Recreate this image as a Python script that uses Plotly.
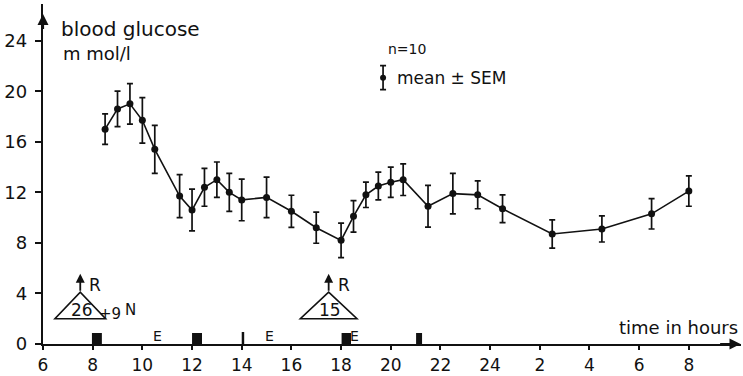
import plotly.graph_objects as go

# ---------------- data ----------------
hours = [8.5, 9, 9.5, 10, 10.5, 11.5, 12, 12.5, 13, 13.5, 14, 15, 16, 17, 18,
         18.5, 19, 19.5, 20, 20.5, 21.5, 22.5, 23.5, 24.5, 26.5, 28.5, 30.5, 32]
glucose = [17.0, 18.6, 19.0, 17.7, 15.4, 11.7, 10.6, 12.4, 13.0, 12.0, 11.4, 11.6, 10.5, 9.2, 8.2,
           10.1, 11.8, 12.5, 12.8, 13.0, 10.9, 11.9, 11.8, 10.7, 8.7, 9.1, 10.3, 12.1]
sem = [1.2, 1.4, 1.6, 1.8, 1.9, 1.7, 1.65, 1.5, 1.4, 1.5, 1.65, 1.6, 1.27, 1.23, 1.37,
       1.25, 1.0, 1.1, 1.2, 1.25, 1.65, 1.6, 1.1, 1.1, 1.12, 1.03, 1.2, 1.2]

x_tick_hours = [6, 8, 10, 12, 14, 16, 18, 20, 22, 24, 26, 28, 30, 32]
x_tick_text = ["6", "8", "10", "12", "14", "16", "18", "20", "22", "24", "2", "4", "6", "8"]
y_ticks = [0, 4, 8, 12, 16, 20, 24]

meal_start = [7.97, 12.0, 18.02, 21.02]
meal_duration = [0.4, 0.4, 0.38, 0.24]
snack_hours = [14.05]
extra_hours = [10.6, 15.1, 18.55]          # "E"
injection_hours = [7.5, 17.5]
injection_doses = ["26", "15"]

# ---------------- layout constants ----------------
W, H = 743, 376
ML, MR, MT, MB = 43, 2, 4, 32
XR = [6, 34.1]
YR = [0, 26.9]
FONT = "DejaVu Sans"
BLACK = "#111111"


def px(xp):
    return (xp - ML) / (W - ML - MR)


def py(yp):
    return (H - MB - yp) / (H - MT - MB)


fig = go.Figure()

fig.add_trace(go.Scatter(
    x=hours, y=glucose, mode="lines+markers",
    line=dict(color=BLACK, width=1.6),
    marker=dict(color=BLACK, size=7),
    error_y=dict(type="data", array=sem, visible=True, color=BLACK, thickness=1.7, width=3),
    showlegend=False, hoverinfo="skip"))

# legend key (mean ± SEM symbol)
fig.add_trace(go.Scatter(
    x=[19.69], y=[21.07], mode="markers",
    marker=dict(color=BLACK, size=6),
    error_y=dict(type="data", array=[0.95], visible=True, color=BLACK, thickness=1.7, width=3),
    showlegend=False, hoverinfo="skip"))

shapes = []
annotations = []

# meals (black blocks on the time axis)
for s, d in zip(meal_start, meal_duration):
    shapes.append(dict(type="rect", xref="x", yref="y", x0=s, x1=s + d, y0=0, y1=0.87,
                       fillcolor=BLACK, line=dict(width=0)))
for h in snack_hours:
    shapes.append(dict(type="rect", xref="x", yref="y", x0=h - 0.05, x1=h + 0.05, y0=0, y1=0.95,
                       fillcolor=BLACK, line=dict(width=0)))
for h in extra_hours:
    annotations.append(dict(x=h, y=0, xref="x", yref="y", text="E", showarrow=False,
                            yanchor="bottom", yshift=-2, font=dict(family=FONT, size=14, color=BLACK)))

# insulin injections (triangles with arrow R)
TRI_HALF = [1.02, 1.14]
TRI_BASE, TRI_APEX, ARROW_TIP = 2.0, 4.1, 5.55
for i, h in enumerate(injection_hours):
    hw = TRI_HALF[i]
    shapes.append(dict(type="path", xref="x", yref="y",
                       path=f"M {h - hw},{TRI_BASE} L {h + hw},{TRI_BASE} L {h},{TRI_APEX} Z",
                       line=dict(color=BLACK, width=1.6)))
    annotations.append(dict(x=h, y=ARROW_TIP, ax=h, ay=TRI_APEX, xref="x", yref="y",
                            axref="x", ayref="y", text="", showarrow=True, arrowhead=2,
                            arrowsize=1, arrowwidth=1.8, arrowcolor=BLACK))
    annotations.append(dict(x=h + 0.6, y=4.67, xref="x", yref="y", text="R", showarrow=False,
                            font=dict(family=FONT, size=17, color=BLACK)))
    annotations.append(dict(x=h + 0.07, y=2.7, xref="x", yref="y", text=injection_doses[i],
                            showarrow=False, font=dict(family=FONT, size=17, color=BLACK)))

annotations.append(dict(x=8.7, y=2.35, xref="x", yref="y", text="+9", showarrow=False,
                        font=dict(family=FONT, size=15, color=BLACK)))
annotations.append(dict(x=9.52, y=2.7, xref="x", yref="y", text="N", showarrow=False,
                        font=dict(family=FONT, size=15, color=BLACK)))

# axis arrows
annotations.append(dict(x=6, y=26.1, ax=6, ay=24.8, xref="x", yref="y", axref="x", ayref="y",
                        text="", showarrow=True, arrowhead=2, arrowsize=1, arrowwidth=2.2,
                        arrowcolor=BLACK))
annotations.append(dict(x=34.08, y=0, ax=33.2, ay=0, xref="x", yref="y", axref="x", ayref="y",
                        text="", showarrow=True, arrowhead=2, arrowsize=1, arrowwidth=2.2,
                        arrowcolor=BLACK))

# texts
texts = [
    ("blood glucose", 59, 29, 20),
    ("m mol/l", 61, 53, 18),
    ("n=10", 386, 49, 14),
    ("mean ± SEM", 395, 78, 17),
    ("time in hours", 617, 327, 18),
]
for t, xp, yp, sz in texts:
    annotations.append(dict(x=px(xp), y=py(yp), xref="paper", yref="paper", text=t,
                            showarrow=False, xanchor="left", yanchor="middle",
                            font=dict(family=FONT, size=sz, color=BLACK)))

fig.update_layout(
    template="none",
    width=W, height=H,
    margin=dict(l=ML, r=MR, t=MT, b=MB, autoexpand=False),
    paper_bgcolor="white", plot_bgcolor="white",
    shapes=shapes, annotations=annotations,
    xaxis=dict(range=XR, tickmode="array", tickvals=x_tick_hours, ticktext=x_tick_text,
               automargin=False,
               showgrid=False, zeroline=False, showline=True, linecolor=BLACK, linewidth=2.2,
               ticks="outside", ticklen=4, tickwidth=1.5, tickcolor=BLACK,
               tickfont=dict(family=FONT, size=17, color=BLACK)),
    yaxis=dict(range=YR, tickmode="array", tickvals=y_ticks, automargin=False,
               showgrid=False, zeroline=False, showline=True, linecolor=BLACK, linewidth=2.4,
               ticks="outside", ticklen=6, tickwidth=1.5, tickcolor=BLACK, ticklabelstandoff=4,
               tickfont=dict(family=FONT, size=18, color=BLACK)),
)

fig.write_html("out.html", config={"displayModeBar": False},
               post_script="document.body.style.margin='0px';document.body.style.overflow='hidden';")
